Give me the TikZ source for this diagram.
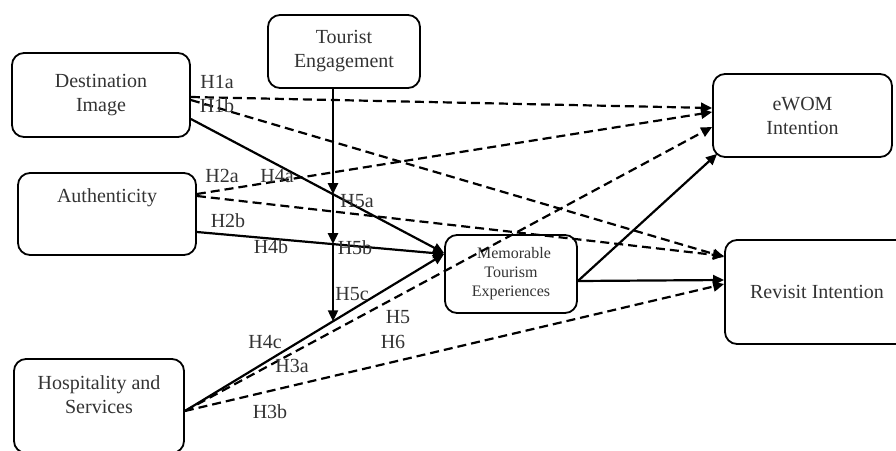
\documentclass[tikz,border=0pt]{standalone}
\usepackage{fontspec}
\setmainfont{Liberation Serif}
\usetikzlibrary{arrows.meta,intersections}

\tikzset{
  construct/.style = {shape=rectangle, rounded corners=12pt, draw, line width=1.8pt, align=center},
  hyp/.style = {line width=2.2pt, -{Triangle[length=11pt,width=10pt]}},
  hypdash/.style = {hyp, dash pattern=on 9pt off 5pt},
  hname/.style = {inner sep=0pt}
}

\begin{document}
\begin{tikzpicture}[x=1pt, y=-1pt, every node/.style = {font=\fontsize{20}{24}\selectfont, text=black!80}, every label/.style = {align=center}]
    \useasboundingbox (0,0) rectangle (896,450);

    % constructs
    \node[construct, minimum width=178pt, minimum height=84pt] (di) at (101,95) {Destination\\Image};
    \node[construct, minimum width=152pt, minimum height=73pt] (te) at (344,51.5) {Tourist\\Engagement};
    \node[construct, minimum width=178pt, minimum height=82pt, label={[yshift=16pt]center:Authenticity}] (auth) at (107,214) {};
    \node[construct, minimum width=170pt, minimum height=94pt, label={[yshift=11pt]center:Hospitality and\\Services}] (hs) at (99,406) {};
    \node[construct, minimum width=132pt, minimum height=78pt, font=\fontsize{16}{19}\selectfont] (mte) at (511,274) {\hspace{6pt}Memorable\\Tourism\\Experiences};
    \node[construct, minimum width=179pt, minimum height=83pt] (ewom) at (802.5,115.5) {eWOM\\Intention};
    \node[construct, minimum width=184pt, minimum height=104pt] (rev) at (817,292) {Revisit Intention};

    % direct effects on MTE
    \draw[hyp, name path=dimte] ([yshift=-24pt]di.east) -- ([yshift=21pt]mte.west);
    \draw[hyp, name path=aumte] ([yshift=-18pt]auth.east) -- ([yshift=20pt]mte.west);
    \draw[hyp, name path=hsmte] ([yshift=-5pt]hs.east) -- ([yshift=20pt]mte.west);

    % moderation by tourist engagement
    \path[name path=tevert] ([xshift=-11pt]te.south) -- ++(0,300);
    \path[name intersections={of=tevert and dimte, by=m5a}];
    \path[name intersections={of=tevert and aumte, by=m5b}];
    \path[name intersections={of=tevert and hsmte, by=m5c}];
    \draw[hyp] ([xshift=-11pt]te.south) -- (m5a);
    \draw[hyp] (m5a) -- (m5b);
    \draw[hyp] (m5b) -- (m5c);

    % outcomes of MTE
    \draw[hyp] ([yshift=-7pt]mte.east) -- ([xshift=5pt,yshift=4pt]ewom.south west);
    \draw[hyp] ([yshift=-7pt]mte.east) -- ([yshift=12pt]rev.west);

    % direct effects on intentions
    \draw[hypdash] ([yshift=-2pt]di.east) -- ([yshift=7.5pt]ewom.west);
    \draw[hypdash] ([yshift=-5pt]di.east) -- ([yshift=35pt]rev.west);
    \draw[hypdash] ([yshift=20pt]auth.east) -- ([yshift=3.5pt]ewom.west);
    \draw[hypdash] ([yshift=18pt]auth.east) -- ([yshift=36pt]rev.west);
    \draw[hypdash] ([yshift=-5pt]hs.east) -- ([yshift=-11.5pt]ewom.west);
    \draw[hypdash] ([yshift=-5pt]hs.east) -- ([yshift=8pt]rev.west);

    % hypothesis labels
    \node[hname] (l1a) at (217,82) {H1a};
    \node[hname] (l1b) at (217,106) {H1b};
    \node[hname] (l2a) at (222,176) {H2a};
    \node[hname] (l4a) at (277,176) {H4a};
    \node[hname] (l5a) at (357,201) {H5a};
    \node[hname] (l2b) at (228,221) {H2b};
    \node[hname] (l4b) at (271,247) {H4b};
    \node[hname] (l5b) at (355,248) {H5b};
    \node[hname] (l5c) at (352,294) {H5c};
    \node[hname] (l5) at (398,317) {H5};
    \node[hname] (l6) at (393,342) {H6};
    \node[hname] (l4c) at (265,342) {H4c};
    \node[hname] (l3a) at (292,366) {H3a};
    \node[hname] (l3b) at (270,412) {H3b};
\end{tikzpicture}
\end{document}
